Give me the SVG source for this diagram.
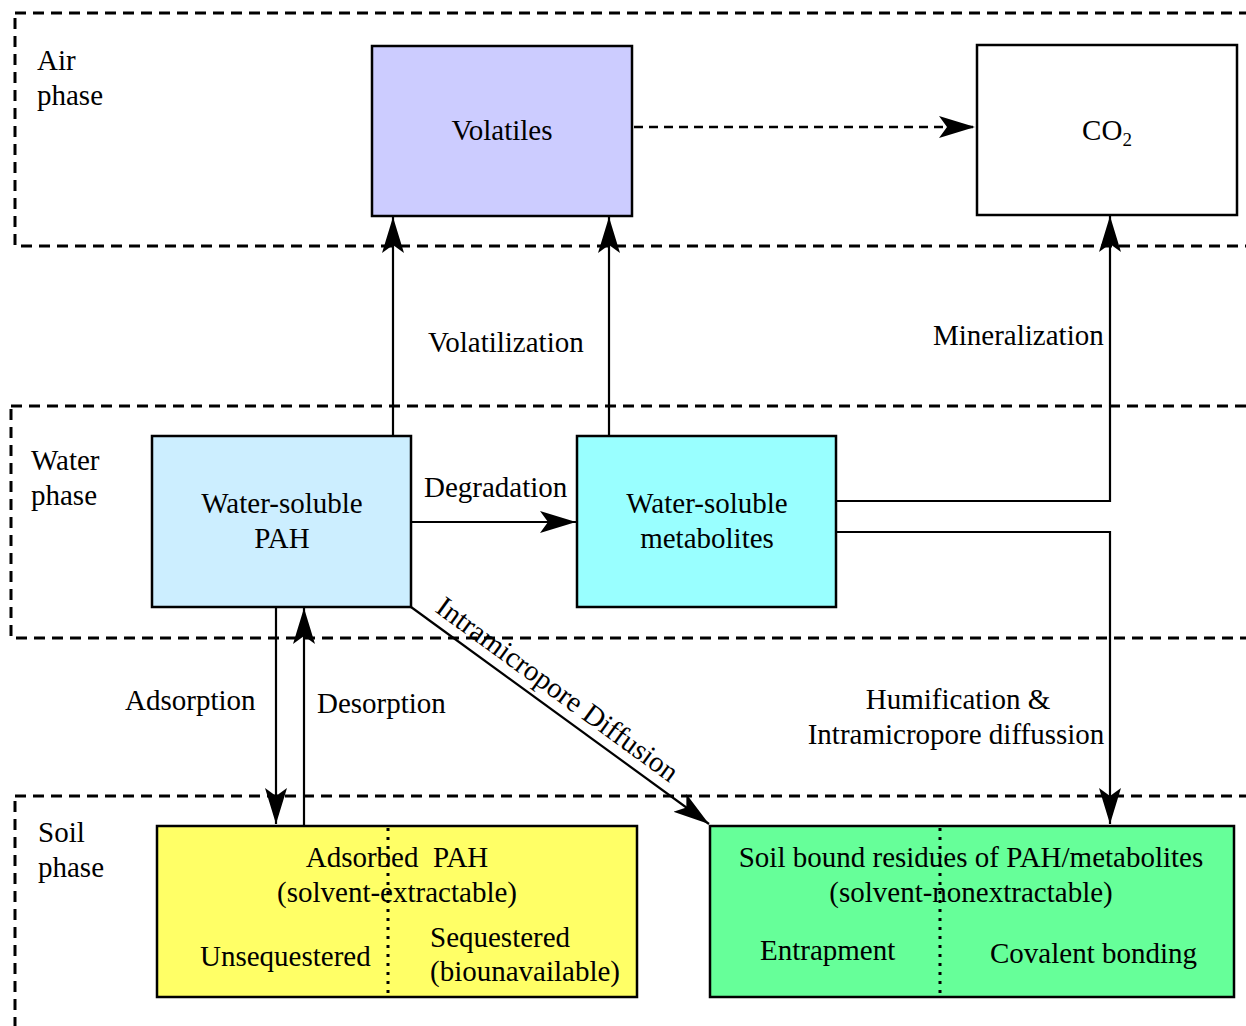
<svg xmlns="http://www.w3.org/2000/svg" width="1246" height="1026" viewBox="0 0 1246 1026">
<style>
text{font-family:"Liberation Serif","Times New Roman",serif;font-size:29px;fill:#000}
.c{text-anchor:middle}
.phase{fill:none;stroke:#000;stroke-width:3;stroke-dasharray:11 7}
.node{stroke:#000;stroke-width:2.5}
.conn{fill:none;stroke:#000;stroke-width:2.2}
.dash{stroke-dasharray:9 6;stroke-width:2.5}
.dot{stroke:#000;stroke-width:3;stroke-dasharray:3 6}
</style>
<defs>
<marker id="ah" markerUnits="userSpaceOnUse" viewBox="-36 -12 37 24" refX="0" refY="0" markerWidth="37" markerHeight="24" orient="auto">
<path d="M0,0 L-36,-11 L-28,0 L-36,11 Z" fill="#000"/>
</marker>
</defs>
<rect width="1246" height="1026" fill="#fff"/>
<g id="phases">
<rect class="phase" x="15" y="13" width="1260" height="233"/>
<rect class="phase" x="11" y="406" width="1260" height="232"/>
<rect class="phase" x="15" y="796" width="1260" height="260"/>
<text x="37" y="70">Air</text><text x="37" y="105">phase</text>
<text x="31" y="470">Water</text><text x="31" y="505">phase</text>
<text x="38" y="842">Soil</text><text x="38" y="877">phase</text>
</g>
<g id="connectors">
<path class="conn" d="M393,436 V217" marker-end="url(#ah)"/>
<path class="conn" d="M609,436 V217" marker-end="url(#ah)"/>
<path class="conn dash" d="M634,127 H975" marker-end="url(#ah)"/>
<path class="conn" d="M836,501 H1110 V216" marker-end="url(#ah)"/>
<path class="conn" d="M836,532 H1110 V824" marker-end="url(#ah)"/>
<path class="conn" d="M411,522 H576" marker-end="url(#ah)"/>
<path class="conn" d="M276,608 V824" marker-end="url(#ah)"/>
<path class="conn" d="M304,825 V608" marker-end="url(#ah)"/>
<path class="conn" d="M411,607 L709,824" marker-end="url(#ah)"/>
<text x="428" y="352">Volatilization</text>
<text x="933" y="345">Mineralization</text>
<text x="424" y="497">Degradation</text>
<text x="125" y="710">Adsorption</text>
<text x="317" y="713">Desorption</text>
<text class="c" x="958" y="709">Humification &amp;</text>
<text class="c" x="956" y="744">Intramicropore diffussion</text>
<text transform="translate(434,611) rotate(36.1)">Intramicropore Diffusion</text>
</g>
<g id="volatiles">
<rect class="node" x="372" y="46" width="260" height="170" fill="#ccccff"/>
<text class="c" x="502" y="140">Volatiles</text>
</g>
<g id="co2">
<rect class="node" x="977" y="45" width="260" height="170" fill="#fff"/>
<text class="c" x="1107" y="140">CO<tspan font-size="19" dy="6">2</tspan></text>
</g>
<g id="pah">
<rect class="node" x="152" y="436" width="259" height="171" fill="#cceeff"/>
<text class="c" x="282" y="513">Water-soluble</text>
<text class="c" x="282" y="548">PAH</text>
</g>
<g id="metabolites">
<rect class="node" x="577" y="436" width="259" height="171" fill="#99ffff"/>
<text class="c" x="707" y="513">Water-soluble</text>
<text class="c" x="707" y="548">metabolites</text>
</g>
<g id="adsorbed">
<rect class="node" x="157" y="826" width="480" height="171" fill="#ffff66"/>
<line class="dot" x1="388" y1="828" x2="388" y2="997"/>
<text class="c" x="397" y="867" xml:space="preserve">Adsorbed  PAH</text>
<text class="c" x="397" y="902">(solvent-extractable)</text>
<text x="200" y="966">Unsequestered</text>
<text x="430" y="947">Sequestered</text>
<text x="430" y="981">(biounavailable)</text>
</g>
<g id="bound">
<rect class="node" x="710" y="826" width="524" height="171" fill="#66ff99"/>
<line class="dot" x1="940" y1="828" x2="940" y2="997"/>
<text class="c" x="971" y="867">Soil bound residues of PAH/metabolites</text>
<text class="c" x="971" y="902">(solvent-nonextractable)</text>
<text x="760" y="960">Entrapment</text>
<text x="990" y="963">Covalent bonding</text>
</g>
</svg>
